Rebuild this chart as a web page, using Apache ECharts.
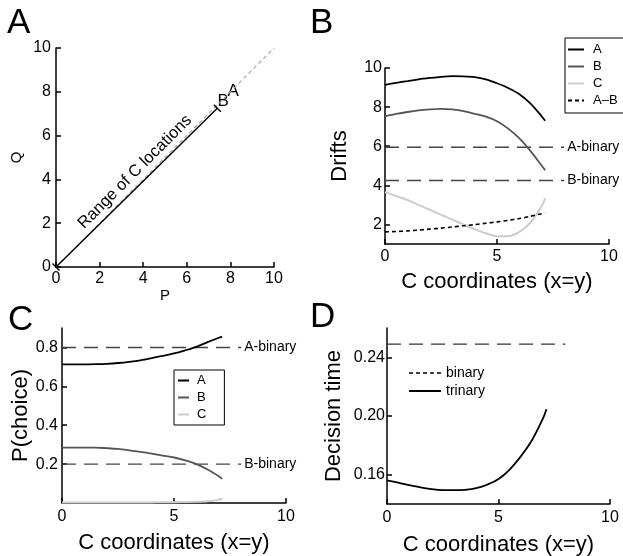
<!DOCTYPE html>
<html><head><meta charset="utf-8">
<script src="https://cdn.jsdelivr.net/npm/echarts@6/dist/echarts.min.js"></script>
<style>html,body{margin:0;padding:0;background:#fff}#c{width:623px;height:556px}</style>
</head><body><div id="c"></div>
<script>
// ---------- Panel A data ----------
const ticksA = [0, 2, 4, 6, 8, 10];
const diagP = [0, 10];
const diagQ = [0, 10];
const rangeP = [0, 7.4];
const rangeQ = [0, 7.25];
const optNames = ['A', 'B'];
const optP = [8.13, 7.67];
const optQ = [8.0, 7.55];

// ---------- shared x (C coordinates) ----------
const cX = [0, 0.5, 1, 1.5, 2, 2.5, 3, 3.5, 4, 4.5, 5, 5.5, 6, 6.5, 7, 7.15];

// ---------- Panel B: drifts ----------
const driftA = [9.14, 9.24, 9.33, 9.42, 9.49, 9.55, 9.58, 9.57, 9.53, 9.42, 9.22, 8.98, 8.66, 8.18, 7.52, 7.30];
const driftB = [7.53, 7.65, 7.75, 7.83, 7.88, 7.91, 7.88, 7.80, 7.66, 7.51, 7.28, 6.90, 6.40, 5.75, 5.00, 4.78];
const driftC = [3.65, 3.45, 3.25, 3.00, 2.75, 2.50, 2.25, 2.00, 1.76, 1.55, 1.40, 1.40, 1.62, 2.10, 2.95, 3.35];
const driftAB = [1.62, 1.64, 1.67, 1.71, 1.76, 1.81, 1.87, 1.93, 1.99, 2.06, 2.13, 2.21, 2.30, 2.42, 2.55, 2.59];
const binaryX = [0, 8];
const driftAbinary = 5.95;
const driftBbinary = 4.25;
const driftTicks = [2, 4, 6, 8, 10];

// ---------- Panel C: choice probabilities ----------
const probA = [0.713, 0.713, 0.713, 0.714, 0.716, 0.720, 0.726, 0.734, 0.745, 0.757, 0.769, 0.785, 0.803, 0.827, 0.850, 0.856];
const probB = [0.285, 0.285, 0.285, 0.285, 0.282, 0.278, 0.271, 0.263, 0.254, 0.244, 0.234, 0.219, 0.200, 0.172, 0.137, 0.124];
const probC = [0.003, 0.003, 0.003, 0.003, 0.003, 0.003, 0.003, 0.003, 0.003, 0.004, 0.004, 0.005, 0.006, 0.009, 0.016, 0.022];
const probAbinary = 0.8;
const probBbinary = 0.2;
const probTicks = [0.2, 0.4, 0.6, 0.8];

// ---------- Panel D: decision time ----------
const dtTrinary = [0.1561, 0.1545, 0.1528, 0.1513, 0.1502, 0.1495, 0.1494, 0.1497, 0.1508, 0.1532, 0.1570, 0.1635, 0.1725, 0.1835, 0.1985, 0.2046];
const dtBinary = 0.249;
const dtTicks = [0.16, 0.20, 0.24];

const FONT = 'Liberation Sans, Arial, Helvetica, sans-serif';
const pairs = (xs, ys) => xs.map((x, i) => [x, ys[i]]);
const hline = (xs, v) => xs.map(x => [x, v]);

function axis(o) {
  return {
    type: 'value', gridIndex: o.grid, min: o.min, max: o.max, interval: o.interval,
    name: o.name, nameLocation: 'middle', nameGap: o.nameGap,
    nameTextStyle: { color: '#000', fontSize: o.nameSize || 22, fontFamily: FONT },
    axisLine: { show: true, onZero: false, lineStyle: { color: '#000', width: 1.5 } },
    axisTick: Object.assign({ show: true, inside: true, length: 5, lineStyle: { color: '#000', width: 1.5 } },
      o.custom ? { customValues: o.custom } : {}),
    axisLabel: Object.assign({ color: '#000', fontSize: 16, fontFamily: FONT, margin: o.margin,
      formatter: o.fmt || (v => String(v)) }, o.custom ? { customValues: o.custom } : {}),
    splitLine: { show: false }
  };
}

function lineS(name, xi, data, color, width, type, extra) {
  return Object.assign({
    name, type: 'line', xAxisIndex: xi, yAxisIndex: xi, data,
    symbol: 'none', showSymbol: false, smooth: 0.3, silent: true,
    lineStyle: { color, width, type: type || 'solid' }, itemStyle: { color }
  }, extra || {});
}

function binLine(name, xi, v, label) {
  return lineS(name, xi, hline(binaryX, v), '#444', 1.4, [14, 8], {
    smooth: false,
    endLabel: label ? { show: true, formatter: label, color: '#000', fontSize: 14, fontFamily: FONT, distance: 3 } : { show: false }
  });
}

const legendCommon = {
  orient: 'vertical', itemHeight: 14, itemGap: 4, selectedMode: false,
  itemStyle: { opacity: 0, borderWidth: 0 }
};

const chart = echarts.init(document.getElementById('c'), null, { renderer: 'canvas' });
const option = {
  animation: false,
  backgroundColor: '#fff',
  textStyle: { fontFamily: FONT },
  grid: [
    { left: 56, right: 349, top: 48, bottom: 289, outerBoundsMode: 'none' },
    { left: 385, right: 14, top: 68, bottom: 312, outerBoundsMode: 'none' },
    { left: 62, right: 337, top: 328, bottom: 53, outerBoundsMode: 'none' },
    { left: 387, right: 13, top: 328, bottom: 52, outerBoundsMode: 'none' }
  ],
  xAxis: [
    axis({ grid: 0, min: 0, max: 10, interval: 2, name: 'P', nameGap: 18, nameSize: 15, margin: 4 }),
    axis({ grid: 1, min: 0, max: 10, interval: 5, name: 'C coordinates (x=y)', nameGap: 27, margin: 5 }),
    axis({ grid: 2, min: 0, max: 10, interval: 5, name: 'C coordinates (x=y)', nameGap: 29, margin: 6 }),
    axis({ grid: 3, min: 0, max: 10, interval: 5, name: 'C coordinates (x=y)', nameGap: 30, margin: 6 })
  ],
  yAxis: [
    axis({ grid: 0, min: 0, max: 10, interval: 2, name: 'Q', nameGap: 32, nameSize: 15, margin: 5 }),
    axis({ grid: 1, min: 1, max: 10, custom: driftTicks, name: 'Drifts', nameGap: 34, margin: 3 }),
    axis({ grid: 2, min: 0, max: 0.9, custom: probTicks, name: 'P(choice)', nameGap: 27, margin: 4, fmt: v => v.toFixed(1) }),
    axis({ grid: 3, min: 0.14, max: 0.26, custom: dtTicks, name: 'Decision time', nameGap: 42, margin: 2, fmt: v => v.toFixed(2) })
  ],
  legend: [
    Object.assign({}, legendCommon, {
      data: ['A', 'B', 'C', 'A\u2013B'], left: 565, top: 38, itemWidth: 16,
      padding: [5, 9, 6, 2], borderColor: '#000', borderWidth: 1,
      textStyle: { fontSize: 13, color: '#000', fontFamily: FONT, padding: [0, 0, 0, 4] } }),
    Object.assign({}, legendCommon, {
      data: ['P_A', 'P_B', 'P_C'], left: 174, top: 370, itemWidth: 11,
      padding: [4, 18, 4, 3], borderColor: '#000', borderWidth: 1,
      formatter: n => n.split('_')[1],
      textStyle: { fontSize: 13, color: '#000', fontFamily: FONT, padding: [0, 0, 0, 3] } }),
    Object.assign({}, legendCommon, {
      data: [{ name: 'binary', lineStyle: { type: [4, 3], width: 1.4, color: '#000' } }, { name: 'trinary' }],
      left: 408, top: 366, itemWidth: 32, padding: 0,
      textStyle: { fontSize: 14, color: '#000', fontFamily: FONT } })
  ],
  series: [
    // Panel A
    lineS('diag', 0, pairs(diagP, diagQ), '#a0a0a0', 1.1, [4, 3], { smooth: false }),
    lineS('range', 0, pairs(rangeP, rangeQ), '#000', 1.4, 'solid', {
      smooth: false, symbol: 'rect', showSymbol: true, symbolSize: [1.4, 10], symbolRotate: 45
    }),
    { name: 'opts', type: 'scatter', xAxisIndex: 0, yAxisIndex: 0, symbolSize: 0, silent: true,
      itemStyle: { opacity: 1, color: '#000' },
      data: optNames.map((n, i) => ({ name: n, value: [optP[i], optQ[i]] })),
      label: { show: true, position: 'inside', formatter: '{b}', color: '#000', opacity: 1, fontSize: 17, fontFamily: FONT } },
    { name: 'rangeText', type: 'scatter', xAxisIndex: 0, yAxisIndex: 0, symbolSize: 0, silent: true,
      itemStyle: { opacity: 1, color: '#000' },
      data: [[3.62, 4.34]],
      label: { show: true, position: 'inside', rotate: 45, formatter: 'Range of C locations', color: '#000', opacity: 1, fontSize: 16.5, fontFamily: FONT } },
    // Panel B
    binLine('A-binary', 1, driftAbinary, 'A-binary'),
    binLine('B-binary', 1, driftBbinary, 'B-binary'),
    lineS('C', 1, pairs(cX, driftC), '#cdcdcd', 2),
    lineS('A\u2013B', 1, pairs(cX, driftAB), '#000', 1.6, [4, 3]),
    lineS('B', 1, pairs(cX, driftB), '#555', 1.8),
    lineS('A', 1, pairs(cX, driftA), '#000', 1.8),
    // Panel C
    binLine('pAbin', 2, probAbinary, 'A-binary'),
    binLine('pBbin', 2, probBbinary, 'B-binary'),
    lineS('P_C', 2, pairs(cX, probC), '#cdcdcd', 2),
    lineS('P_B', 2, pairs(cX, probB), '#555', 1.8),
    lineS('P_A', 2, pairs(cX, probA), '#000', 1.8),
    // Panel D
    lineS('binary', 3, hline(binaryX, dtBinary), '#333', 1.4, [14, 8], { smooth: false }),
    lineS('trinary', 3, pairs(cX, dtTrinary), '#000', 1.8)
  ],
  graphic: [
    { type: 'text', x: 7, y: 23, style: { text: 'A', fontSize: 35, fontFamily: FONT, fill: '#000', verticalAlign: 'middle', textVerticalAlign: 'middle' } },
    { type: 'text', x: 310, y: 23.5, style: { text: 'B', fontSize: 35, fontFamily: FONT, fill: '#000', verticalAlign: 'middle', textVerticalAlign: 'middle' } },
    { type: 'text', x: 8, y: 320.5, style: { text: 'C', fontSize: 35, fontFamily: FONT, fill: '#000', verticalAlign: 'middle', textVerticalAlign: 'middle' } },
    { type: 'text', x: 310, y: 317.5, style: { text: 'D', fontSize: 35, fontFamily: FONT, fill: '#000', verticalAlign: 'middle', textVerticalAlign: 'middle' } }
  ]
};
chart.setOption(option);
</script>
</body></html>
